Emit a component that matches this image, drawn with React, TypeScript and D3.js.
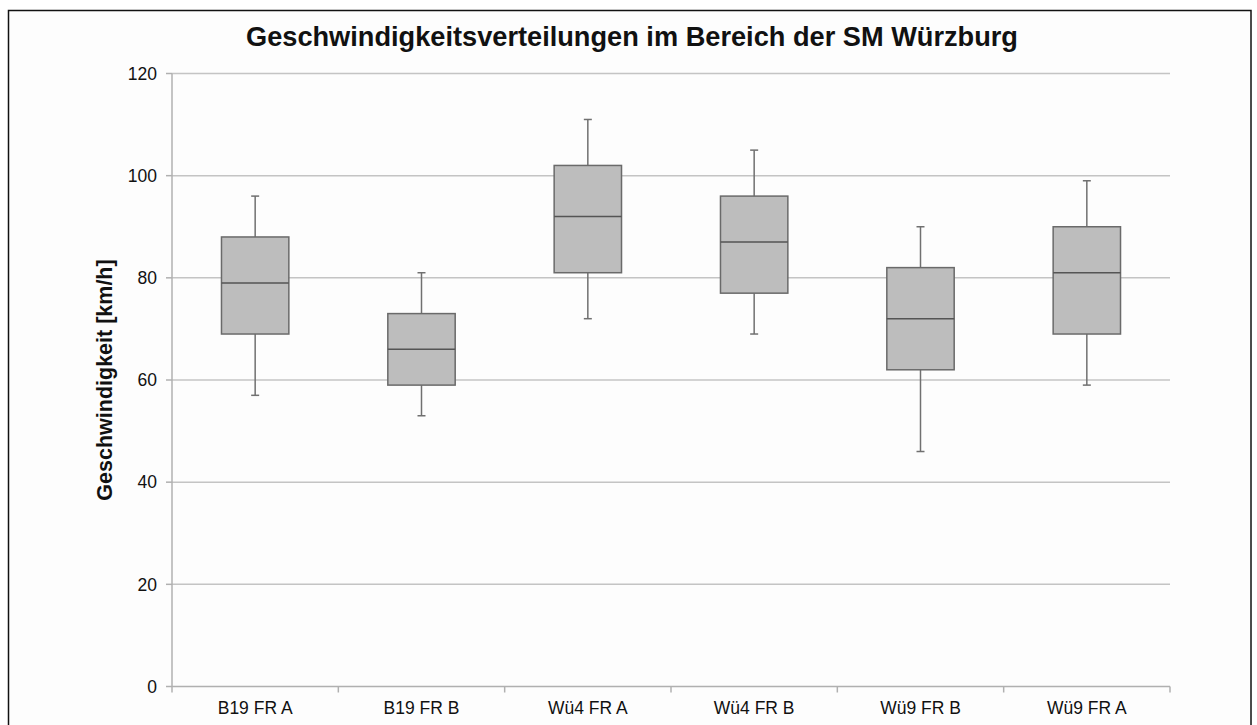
import React from "react";
import * as d3 from "d3";

const categories = ["B19 FR A", "B19 FR B", "Wü4 FR A", "Wü4 FR B", "Wü9 FR B", "Wü9 FR A"];
const whiskerMax = [96, 81, 111, 105, 90, 99];
const q3 = [88, 73, 102, 96, 82, 90];
const median = [79, 66, 92, 87, 72, 81];
const q1 = [69, 59, 81, 77, 62, 69];
const whiskerMin = [57, 53, 72, 69, 46, 59];
const yTicks = [0, 20, 40, 60, 80, 100, 120];

const W = 1257;
const H = 725;
const left = 172;
const right = 1170;
const top = 73.5;
const bottom = 686.5;

export default function App() {
  const x = d3.scaleBand<string>().domain(categories).range([left, right]).padding(0);
  const y = d3.scaleLinear().domain([0, 120]).range([bottom, top]);
  const bw = x.bandwidth();
  const boxW = bw * 0.405;
  const capW = 8;
  const font = "'Liberation Sans', Arial, sans-serif";
  const boundaries = categories.map((c) => x(c)!).concat([right]);

  return (
    <svg width={W} height={H} style={{ position: "absolute", left: 0, top: 0, background: "#fff" }}>
      <rect x={0} y={0} width={W} height={H} fill="#fff" />
      <rect x={8.5} y={10.5} width={1242.5} height={730} fill="#fdfdfd" stroke="#111" strokeWidth={1.5} />
      <text x={632} y={46} textAnchor="middle" fontFamily={font} fontWeight="bold" fontSize={27.2} fill="#111">
        Geschwindigkeitsverteilungen im Bereich der SM Würzburg
      </text>
      {yTicks.map((t) => (
        <g key={t}>
          {t !== 0 && (
            <line x1={left} x2={right} y1={y(t)} y2={y(t)} stroke="#c4c4c4" strokeWidth={1.5} />
          )}
          <line x1={left - 6} x2={left} y1={y(t)} y2={y(t)} stroke="#b0b0b0" strokeWidth={1.5} />
          <text x={157} y={y(t)} dy="0.36em" textAnchor="end" fontFamily={font} fontSize={17.5} fill="#111">
            {t}
          </text>
        </g>
      ))}
      <line x1={left} x2={left} y1={top} y2={bottom} stroke="#b0b0b0" strokeWidth={1.5} />
      <line x1={left} x2={right} y1={bottom} y2={bottom} stroke="#b0b0b0" strokeWidth={1.5} />
      {boundaries.map((b, i) => (
        <line key={i} x1={b} x2={b} y1={bottom} y2={bottom + 6} stroke="#b0b0b0" strokeWidth={1.5} />
      ))}
      <text
        transform={`translate(112,380) rotate(-90)`}
        textAnchor="middle"
        fontFamily={font}
        fontWeight="bold"
        fontSize={21.5}
        fill="#111"
      >
        Geschwindigkeit [km/h]
      </text>
      {categories.map((c, i) => {
        const cx = x(c)! + bw / 2;
        return (
          <g key={c}>
            <line x1={cx} x2={cx} y1={y(whiskerMax[i])} y2={y(q3[i])} stroke="#707070" strokeWidth={1.5} />
            <line x1={cx} x2={cx} y1={y(q1[i])} y2={y(whiskerMin[i])} stroke="#707070" strokeWidth={1.5} />
            <line x1={cx - capW / 2} x2={cx + capW / 2} y1={y(whiskerMax[i])} y2={y(whiskerMax[i])} stroke="#707070" strokeWidth={1.5} />
            <line x1={cx - capW / 2} x2={cx + capW / 2} y1={y(whiskerMin[i])} y2={y(whiskerMin[i])} stroke="#707070" strokeWidth={1.5} />
            <rect
              x={cx - boxW / 2}
              y={y(q3[i])}
              width={boxW}
              height={y(q1[i]) - y(q3[i])}
              fill="#bdbdbd"
              stroke="#6a6a6a"
              strokeWidth={1.5}
            />
            <line x1={cx - boxW / 2} x2={cx + boxW / 2} y1={y(median[i])} y2={y(median[i])} stroke="#555" strokeWidth={1.5} />
            <text x={cx} y={714} textAnchor="middle" fontFamily={font} fontSize={17.5} fill="#111">
              {c}
            </text>
          </g>
        );
      })}
    </svg>
  );
}
